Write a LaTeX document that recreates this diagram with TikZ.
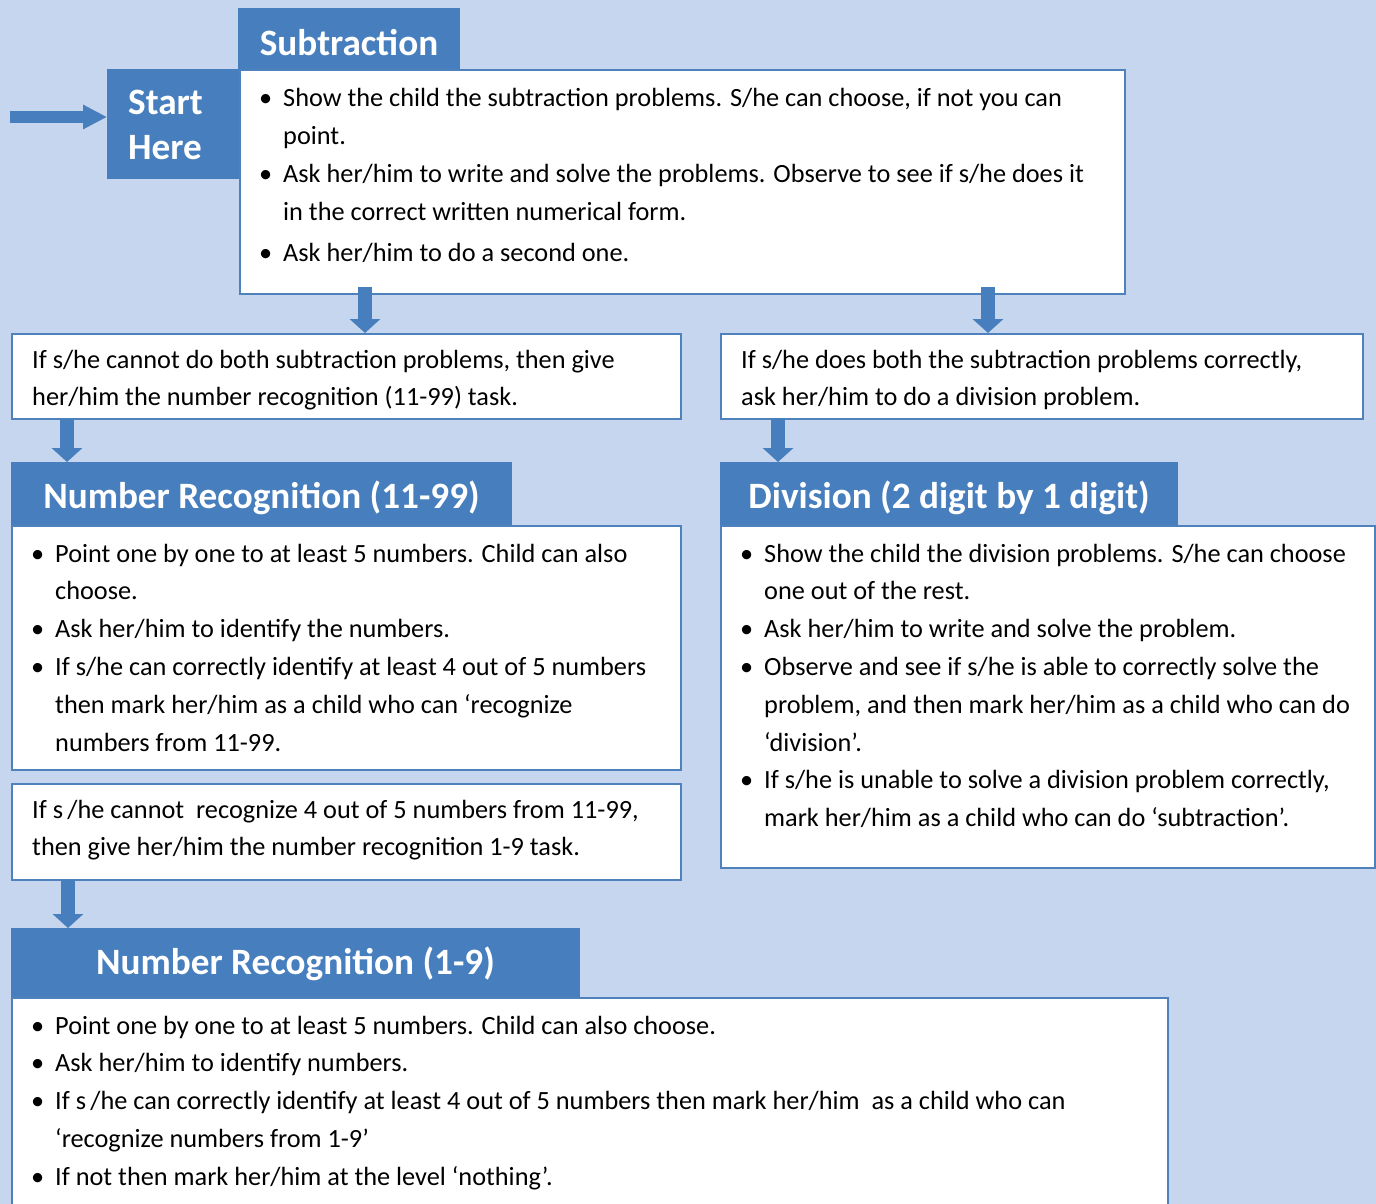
\documentclass[tikz,border=0pt]{standalone}
\usepackage{fontspec}
\setmainfont{Carlito}
\usetikzlibrary{arrows.meta,calc}
\definecolor{pageblue}{RGB}{198,214,238}
\definecolor{headblue}{RGB}{71,126,189}
\definecolor{lineblue}{RGB}{79,129,189}
\tikzset{
	panel/.style={draw=lineblue, line width=2pt, fill=white, anchor=north west, inner sep=0pt},
	head/.style={draw=headblue, line width=1pt, fill=headblue, anchor=north west, inner sep=0pt, text=white, font=\fontsize{37.2}{45}\selectfont\bfseries},
	body/.style={anchor=base west, inner sep=0pt, font=\fontsize{26.3}{37.8}\selectfont},
	flow/.style={draw=headblue, line width=14pt, -{Triangle[width=30pt,length=14pt]}}
}
\newcommand{\bul}{\par\hangindent=24pt\hangafter=1\noindent\makebox[24pt][l]{\textbullet}}
\newcommand{\lines}[1]{\parbox[t]{1200pt}{\raggedright #1}}

\begin{document}
\begin{tikzpicture}[x=1pt,y=-1pt]
				\fill[pageblue] (0,0) rectangle (1376,1204);
				\useasboundingbox (0,0) rectangle (1376,1204);
				\clip (0,0) rectangle (1376,1204);
				
				\node[head, minimum width=221pt, text height=47pt, text depth=14pt] (subhead) at (238,8) {Subtraction};
				\node[head, minimum width=131pt, minimum height=109pt] (start) at (107,69) {};
				\node[panel, minimum width=885pt, minimum height=224pt] (subbody) at (239,69) {};
				\node[body, text=white, font=\fontsize{37.2}{45}\selectfont\bfseries] (starttxt) at ([shift={(21pt,-46pt)}]start.north west) {\lines{Start\newline Here}};
				\node[body] (subtxt) at ([shift={(20pt,-38pt)}]subbody.north west) {\lines{%
					\bul Show the child the subtraction problems. S/he can choose, if not you can\newline point.
					\bul Ask her/him to write and solve the problems. Observe to see if s/he does it\newline in the correct written numerical form.
					\par\vspace{3pt}\bul Ask her/him to do a second one.}};
				
				\coordinate (entry) at (10,117);
				\draw[flow, line width=12pt, -{Triangle[width=23pt,length=24pt]}] (entry) -- (entry -| start.west);
				
				\node[panel, minimum width=669pt, minimum height=85pt] (lcond) at (11,333) {};
				\node[body] (lcondtxt) at ([shift={(21pt,-35pt)}]lcond.north west) {\lines{If s/he cannot do both subtraction problems, then give\newline her/him the number recognition (11-99) task.}};
				\node[panel, minimum width=642pt, minimum height=85pt] (rcond) at (720,333) {};
				\node[body] (rcondtxt) at ([shift={(21pt,-35pt)}]rcond.north west) {\lines{If s/he does both the subtraction problems correctly,\newline ask her/him to do a division problem.}};
				
				\draw[flow] ([shift={(126pt,8pt)}]subbody.south west) -- ([xshift=354pt]lcond.north west);
				\draw[flow] ([shift={(749pt,8pt)}]subbody.south west) -- ([xshift=268pt]rcond.north west);
				
				\node[head, minimum width=500pt, text height=46pt, text depth=17pt] (nrhead) at (11,462) {Number Recognition (11-99)};
				\node[panel, minimum width=669pt, minimum height=244pt] (nrbody) at (11,525) {};
				\node[body] (nrtxt) at ([shift={(20pt,-37pt)}]nrbody.north west) {\lines{%
					\bul Point one by one to at least 5 numbers. Child can also\newline choose.
					\bul Ask her/him to identify the numbers.
					\bul If s/he can correctly identify at least 4 out of 5 numbers\newline then mark her/him as a child who can ‘recognize\newline numbers from 11-99.}};
				
				\node[head, minimum width=457pt, text height=46pt, text depth=17pt] (divhead) at (720,462) {Division (2 digit by 1 digit)};
				\node[panel, minimum width=654pt, minimum height=342pt] (divbody) at (720,525) {};
				\node[body] (divtxt) at ([shift={(20pt,-37pt)}]divbody.north west) {\lines{%
					\bul Show the child the division problems. S/he can choose\newline one out of the rest.
					\bul Ask her/him to write and solve the problem.
					\bul Observe and see if s/he is able to correctly solve the\newline problem, and then mark her/him as a child who can do\newline ‘division’.
					\bul If s/he is unable to solve a division problem correctly,\newline mark her/him as a child who can do ‘subtraction’.}};
				
				\draw[flow] ([yshift=1pt,xshift=56pt]lcond.south west) -- ([xshift=56pt]nrhead.north west);
				\draw[flow] ([yshift=2pt,xshift=58pt]rcond.south west) -- ([xshift=58pt]divhead.north west);
				
				\node[panel, minimum width=669pt, minimum height=96pt] (recond) at (11,783) {};
				\node[body] (recondtxt) at ([shift={(21pt,-35pt)}]recond.north west) {\lines{If s\,/he cannot\ \ recognize 4 out of 5 numbers from 11-99,\newline then give her/him the number recognition 1-9 task.}};
				
				\node[head, minimum width=568pt, text height=46pt, text depth=24pt] (smallhead) at (11,928) {Number Recognition (1-9)};
				\node[panel, minimum width=1156pt, minimum height=240pt] (smallbody) at (11,997) {};
				\node[body] (smalltxt) at ([shift={(20pt,-37pt)}]smallbody.north west) {\lines{%
					\bul Point one by one to at least 5 numbers. Child can also choose.
					\bul Ask her/him to identify numbers.
					\bul If s\,/he can correctly identify at least 4 out of 5 numbers then mark her/him\ \ as a child who can\newline ‘recognize numbers from 1-9’
					\bul If not then mark her/him at the level ‘nothing’.}};
				
				\draw[flow] ([yshift=1pt,xshift=57pt]recond.south west) -- ([xshift=57pt]smallhead.north west);
			\end{tikzpicture}
\end{document}
